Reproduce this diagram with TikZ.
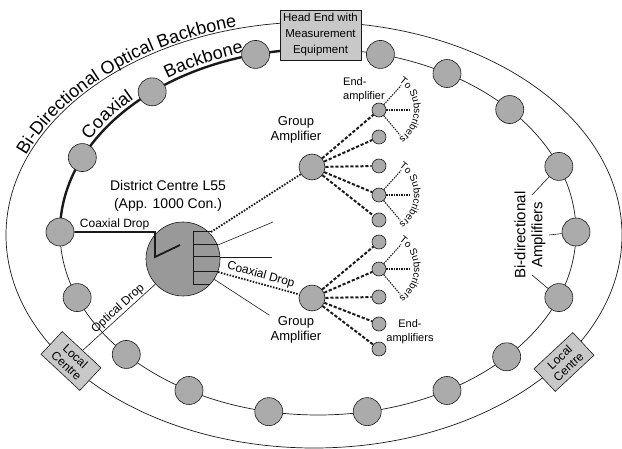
\documentclass[tikz,border=0pt]{standalone}
\usepackage{fontspec}
\setmainfont{Liberation Sans}
\usepackage{tikz}
\usetikzlibrary{positioning,decorations.text}
\definecolor{ink}{HTML}{1A1A1A}
\definecolor{ampfill}{HTML}{ABABAB}
\definecolor{dcfill}{HTML}{999999}
\definecolor{sitefill}{HTML}{C8C8C8}
\newcommand{\arcfont}{\fontsize{18}{20}\selectfont}
\newcommand{\coaxfont}{\fontsize{18}{20}\selectfont}
\newcommand{\subsfont}{\fontsize{10}{11}\selectfont}

\begin{document}
\begin{tikzpicture}[
  x=1pt, y=1pt,
  ring/.style={draw=ink, line width=0.7pt},
  backbone/.style={draw=ink, line width=2.4pt},
  amp/.style={circle, draw=ink, line width=0.6pt, fill=ampfill, inner sep=0pt, minimum size=28pt},
  gamp/.style={amp, minimum size=26pt},
  eamp/.style={amp, minimum size=14pt},
  dcn/.style={amp, fill=dcfill, minimum size=74pt},
  site/.style={draw=ink, line width=0.6pt, fill=sitefill, align=center, inner sep=1pt},
  lbl/.style={align=center, inner sep=1pt},
  coax/.style={draw=ink, line width=1.8pt, line join=miter},
  lead/.style={draw=ink, line width=0.6pt},
  comb/.style={draw=ink, line width=1pt},
  dotln/.style={draw=ink, line width=1.8pt, dash pattern=on 1.6pt off 1.4pt},
  dashln/.style={draw=ink, line width=2pt, dash pattern=on 3.2pt off 1.8pt},
  subln/.style={draw=ink, line width=1.1pt, dash pattern=on 1.4pt off 1.1pt},
]
\useasboundingbox (0,0) rectangle (622,448);
\coordinate (octr) at (314,213);
\coordinate (ictr) at (318,216);
\draw[ring] (octr) ellipse [x radius=308, y radius=213];
\draw[ring] (ictr) ellipse [x radius=258, y radius=183];
\draw[backbone] ([shift={(ictr)}]180:258 and 183) arc [start angle=180, end angle=98, x radius=258, y radius=183];
\path[decorate, decoration={text along path, text align=center, raise=2pt,
    text={|\arcfont|Bi-Directional Optical Backbone}}]
  ([shift={(octr)}]163:308 and 213) arc [start angle=163, end angle=101, x radius=308, y radius=213];
\path[decorate, decoration={text along path, text align=center, raise=4pt,
    text={|\coaxfont|Coaxial}}]
  ([shift={(ictr)}]154:258 and 183) arc [start angle=154, end angle=132, x radius=258, y radius=183];
\path[decorate, decoration={text along path, text align=center, raise=4pt,
    text={|\coaxfont|Backbone}}]
  ([shift={(ictr)}]128:258 and 183) arc [start angle=128, end angle=104, x radius=258, y radius=183];

\foreach \a in {0,21,42,60,76,104,130,156,180,201,222,240,259,281,300,317,339}
  \node[amp] (r\a) at ([shift={(ictr)}]\a:258 and 183) {};
\node[site, minimum width=81pt, minimum height=50pt, font=\fontsize{11.5}{16}\selectfont] (he) at (320.5,413)
  {Head End with\\Measurement\\Equipment};
\node[site, minimum width=53pt, minimum height=31pt, rotate=-43, font=\fontsize{12}{13}\selectfont] (lcL) at (71,87) {Local\\Centre};
\node[site, minimum width=53pt, minimum height=31pt, rotate=43, font=\fontsize{12}{13}\selectfont] (lcR) at (564,86) {Local\\Centre};

\node[dcn] (dc) at (183,189) {};
\node[lbl, font=\fontsize{14}{18}\selectfont, above=9pt of dc, xshift=-15pt] (dclbl) {District Centre L55\\(App. 1000 Con.)};
\node[gamp] (gaT) at (312,281) {};
\node[gamp] (gaB) at (312,150) {};
\node[lbl, font=\fontsize{13}{15}\selectfont, above=9pt of gaT, xshift=-16pt] (gaTlbl) {Group\\Amplifier};
\node[lbl, font=\fontsize{13}{15}\selectfont, below=4pt of gaB, xshift=-16pt] (gaBlbl) {Group\\Amplifier};
\foreach \i/\y in {1/338,2/311,3/282,4/253,5/228}
  \node[eamp] (eT\i) at (379,\y) {};
\foreach \i/\y in {1/206,2/179,3/151,4/124,5/99}
  \node[eamp] (eB\i) at (379,\y) {};
\node[lbl, align=left, font=\fontsize{11}{14}\selectfont, above=0pt of eT1, xshift=-15pt] (eTlbl) {End-\\amplifier};
\node[lbl, font=\fontsize{11}{14}\selectfont] (eBlbl) at (410,116) {End-\\amplifiers};
\node[lbl, rotate=90, font=\fontsize{15}{17}\selectfont] (bdlbl) at (530,213) {Bi-directional\\Amplifiers};

\draw[comb] (193,216) -- (193,163);
\foreach \y/\x in {216/211,203/218,191/220,176/218,163/210}
  \draw[comb] (193,\y) -- (\x,\y);
\coordinate (dcq1) at (211,216);
\coordinate (dcq2) at (218,203);
\coordinate (dcq3) at (220,191);
\coordinate (dcq4) at (218,176);
\coordinate (fr1) at (273,226);
\coordinate (fr2) at (272,191);
\coordinate (ck1) at (155,216);
\coordinate (ck2) at (155,191);
\coordinate (ck3) at (180,203);
\coordinate (bdA) at (532,253);
\coordinate (bdB) at (549,213);
\coordinate (bdC) at (532,173);

\draw[coax] (r180) -- node[above, inner sep=1pt, font=\fontsize{12}{13}\selectfont] {Coaxial Drop} (ck1) -- (ck2) -- (ck3);
\draw[lead] (lcL) -- node[pos=0.55, sloped, above, inner sep=1pt, font=\fontsize{12}{13}\selectfont] {Optical Drop} (dc);
\draw[dotln] (dcq1) -- (gaT);
\draw[dotln] (dcq4) -- node[sloped, above, inner sep=2pt, font=\fontsize{12}{13}\selectfont] {Coaxial Drop} (gaB);
\draw[lead] (dcq2) -- (fr1);
\draw[lead] (dcq3) -- (fr2);
\draw[lead] (dc) -- (gaBlbl.north west);
\foreach \i in {1,...,5} {
  \draw[dashln] (gaT) -- (eT\i);
  \draw[dashln] (gaB) -- (eB\i);
}
\foreach \e in {eT1,eT4,eB2} {
  \coordinate (u\e) at ([shift={(\e)}]48:33);
  \coordinate (m\e) at ([shift={(\e)}]0:32);
  \coordinate (d\e) at ([shift={(\e)}]-50:33);
  \draw[subln] (\e) -- (u\e);
  \draw[subln] (\e) -- (m\e);
  \draw[subln] (\e) -- (d\e);
  \path[decorate, decoration={text along path, text align=center,
      text={|\subsfont|To Subscribers}}]
    ([shift={(\e)}]62:35) arc [start angle=62, end angle=-62, radius=35];
}
\draw[lead] (bdA) -- (r21);
\draw[lead] (bdB) -- (r0);
\draw[lead] (bdC) -- (r339);
\end{tikzpicture}
\end{document}
